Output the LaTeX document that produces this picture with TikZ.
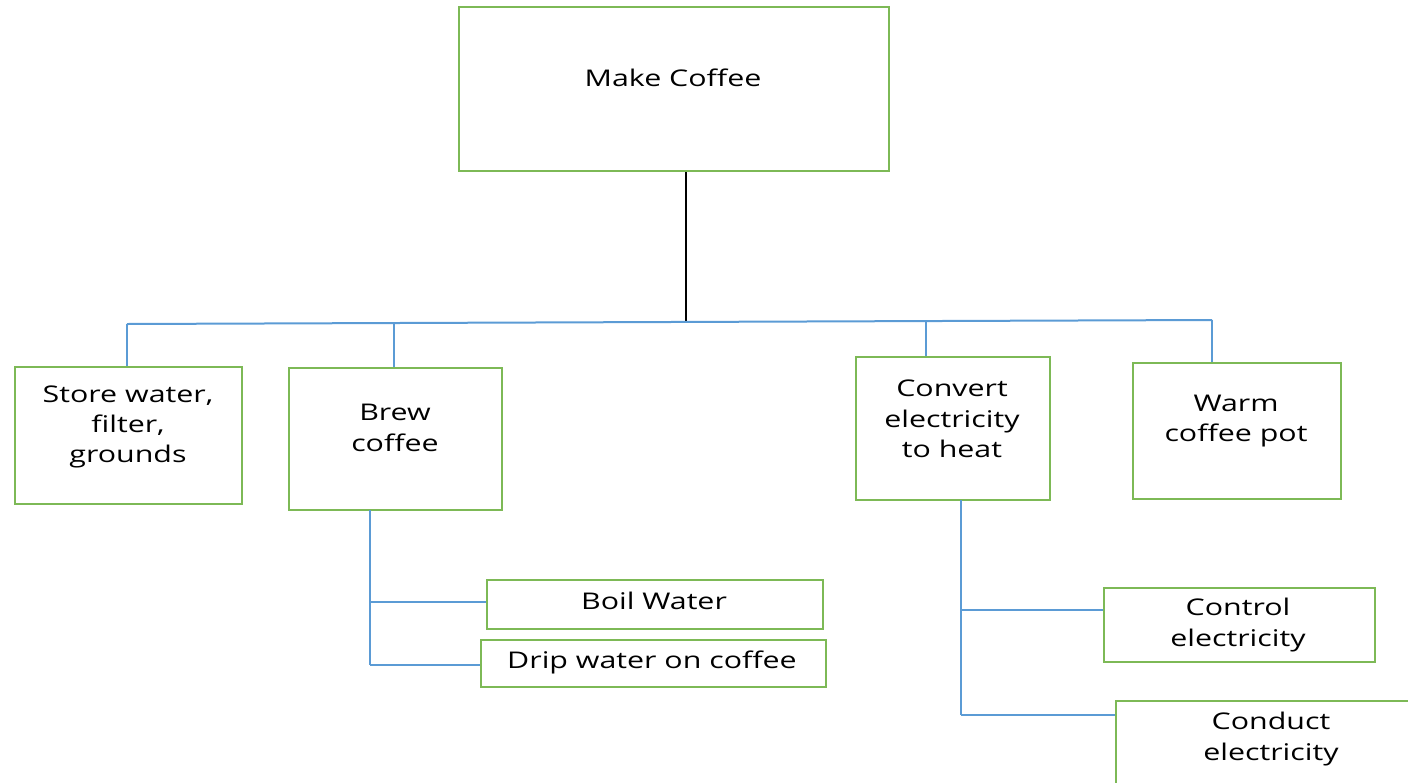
\documentclass[tikz,border=0pt]{standalone}
\usepackage{fontspec}
\setmainfont{Open Sans}[FakeStretch=1.32]
\usetikzlibrary{fit}
\definecolor{boxgreen}{HTML}{7DB956}
\definecolor{linkblue}{HTML}{5B9BD5}
\tikzset{
  box/.style={draw=boxgreen, line width=1pt, inner sep=0pt, fill=white},
  lbl/.style={align=center, font=\fontsize{11.5}{15.2}\selectfont, text=black, inner sep=0pt},
  link/.style={draw=linkblue, line width=1pt},
  stem/.style={draw=black, line width=0.9pt}
}
\begin{document}
\begin{tikzpicture}[x=0.5pt, y=-0.5pt]
\useasboundingbox (0,0) rectangle (1408,782);
\clip (0,0) rectangle (1408,782);

% boxes, given by their corners
\node[box, fit={(459,7) (889,171)}] (mc) {};
\node[box, fit={(15,367) (242,504)}] (store) {};
\node[box, fit={(289,368) (502,510)}] (brew) {};
\node[box, fit={(856,357) (1050,500)}] (conv) {};
\node[box, fit={(1133,363) (1341,499)}] (warm) {};
\node[box, fit={(487,580) (823,629)}] (boil) {};
\node[box, fit={(481,640) (826,687)}] (drip) {};
\node[box, fit={(1104,588) (1375,662)}] (ctrl) {};
\node[box, fit={(1116,701) (1470,840)}] (cond) {};

% labels
\node[lbl] (mc-t) at (673,78) {Make Coffee};
\node[lbl] (store-t) at (128,427) {Store water,\\filter,\\grounds};
\node[lbl] (brew-t) at (395,428) {Brew\\coffee};
\node[lbl] (conv-t) at (952,419) {Convert\\electricity\\to heat};
\node[lbl] (warm-t) at (1236,421) {Warm\\coffee pot};
\node[lbl] (boil-t) at (654,601) {Boil Water};
\node[lbl] (drip-t) at (652,662) {Drip water on coffee};
\node[lbl] (ctrl-t) at (1238,625) {Control\\electricity};
\node[lbl] (cond-t) at (1271,739) {Conduct\\electricity};

% bus points
\coordinate (hub) at (686,322);
\coordinate (b1) at (127,324);
\coordinate (b2) at (394,323);
\coordinate (b3) at (926,321);
\coordinate (b4) at (1212,320);
\coordinate (bv) at (370,510);
\coordinate (bv1) at (370,602);
\coordinate (bv2) at (370,665);
\coordinate (cv) at (961,500);
\coordinate (cv1) at (961,610);
\coordinate (cv2) at (961,715);

% top level
\draw[stem] (mc.south -| hub) -- (hub);
\draw[link] (b1) -- (b4);
\draw[link] (b1) -- (store.north -| b1);
\draw[link] (b2) -- (brew.north -| b2);
\draw[link] (b3) -- (conv.north -| b3);
\draw[link] (b4) -- (warm.north -| b4);

% brew coffee branch
\draw[link] (bv) -- (bv2);
\draw[link] (bv1) -- (boil.west |- bv1);
\draw[link] (bv2) -- (drip.west |- bv2);

% convert branch
\draw[link] (cv) -- (cv2);
\draw[link] (cv1) -- (ctrl.west |- cv1);
\draw[link] (cv2) -- (cond.west |- cv2);
\end{tikzpicture}
\end{document}
